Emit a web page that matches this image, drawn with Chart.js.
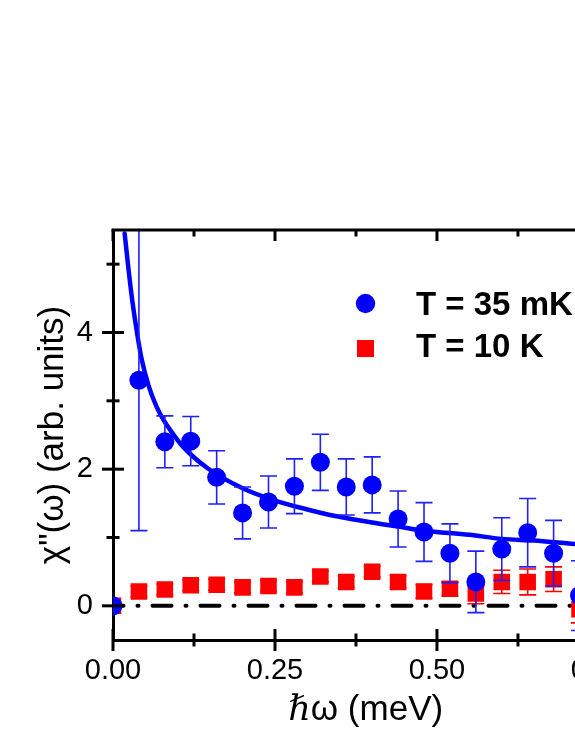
<!DOCTYPE html>
<html>
<head>
<meta charset="utf-8">
<style>
html,body{margin:0;padding:0;overflow:hidden;background:#fff;width:575px;height:744px;}
#wrap{position:absolute;left:0;top:0;width:720px;height:744px;}
</style>
<script src="https://cdn.jsdelivr.net/npm/chart.js@4.4.1/dist/chart.umd.min.js"></script>
</head>
<body>
<div id="wrap"><canvas id="c" width="720" height="744"></canvas></div>
<script>
// ---- data ----
const energy = [0, 0.04, 0.08, 0.12, 0.16, 0.20, 0.24, 0.28, 0.32, 0.36, 0.40, 0.44, 0.48, 0.52, 0.56, 0.60, 0.64, 0.68, 0.72];
const chi35mK = [0, 3.30, 2.40, 2.41, 1.88, 1.36, 1.52, 1.75, 2.10, 1.74, 1.77, 1.27, 1.08, 0.77, 0.35, 0.83, 1.07, 0.77, 0.15];
const err35mK = [0, 2.20, 0.38, 0.36, 0.39, 0.38, 0.38, 0.40, 0.41, 0.41, 0.41, 0.41, 0.43, 0.43, 0.45, 0.46, 0.50, 0.48, 0.51];
const chi10K = [0, 0.21, 0.24, 0.30, 0.31, 0.27, 0.29, 0.27, 0.43, 0.35, 0.50, 0.35, 0.21, 0.25, 0.18, 0.35, 0.35, 0.39, -0.05];
const err10K = [0, 0.08, 0.08, 0.08, 0.08, 0.08, 0.08, 0.08, 0.08, 0.08, 0.08, 0.09, 0.10, 0.10, 0.15, 0.17, 0.19, 0.18, 0.20];
const fitEnergy = [0.018, 0.024, 0.030, 0.037, 0.044, 0.055, 0.067, 0.078, 0.090, 0.108, 0.145, 0.20, 0.25, 0.30, 0.335, 0.40, 0.44, 0.48, 0.55, 0.60, 0.65, 0.713, 0.78];
const fitChi = [5.45, 4.92, 4.45, 4.00, 3.62, 3.22, 2.92, 2.72, 2.55, 2.33, 2.02, 1.72, 1.54, 1.41, 1.33, 1.22, 1.16, 1.10, 1.04, 0.98, 0.955, 0.905, 0.87];
const zeroEnergy = [0, 0.78];
const zeroChi = [0, 0];
const seriesLabels = ['T = 35 mK', 'T = 10 K'];
const xMajorTicks = [0, 0.25, 0.50, 0.75];
const xMinorTicks = [0.125, 0.375, 0.625];
const yMajorTicks = [0, 2, 4];
const yMinorTicks = [1, 3, 5];
const xTitle = 'ℏω (meV)';
const yTitle = 'χ"(ω) (arb. units)';

// ---- helpers ----
const FONT = "'Liberation Sans', Arial, 'DejaVu Serif', sans-serif";
const pts = (xs, ys) => xs.map((x, i) => ({x: x, y: ys[i]}));

const decor = {
  id: 'decor',
  beforeDatasetDraw(chart, args) {
    const ds = chart.data.datasets[args.index];
    if (!ds.errors) return;
    const {ctx, chartArea: a} = chart;
    const xs = chart.scales.x, ys = chart.scales.y;
    ctx.save();
    ctx.beginPath();
    ctx.rect(a.left, a.top, a.right - a.left, a.bottom - a.top);
    ctx.clip();
    ctx.strokeStyle = ds.errColor;
    ctx.lineWidth = 1.6;
    ds.data.forEach((p, i) => {
      const e = ds.errors[i];
      if (!e) return;
      const px = xs.getPixelForValue(p.x);
      const y1 = ys.getPixelForValue(p.y + e);
      const y2 = ys.getPixelForValue(p.y - e);
      ctx.beginPath();
      ctx.moveTo(px, y1); ctx.lineTo(px, y2);
      ctx.moveTo(px - 8.5, y1); ctx.lineTo(px + 8.5, y1);
      ctx.moveTo(px - 8.5, y2); ctx.lineTo(px + 8.5, y2);
      ctx.stroke();
    });
    ctx.restore();
  },
  afterDraw(chart) {
    const {ctx, chartArea: a} = chart;
    const xs = chart.scales.x, ys = chart.scales.y;
    ctx.save();
    ctx.strokeStyle = '#000';
    ctx.lineWidth = 3;
    ctx.lineCap = 'butt';
    const seg = (x1, y1, x2, y2) => { ctx.beginPath(); ctx.moveTo(x1, y1); ctx.lineTo(x2, y2); ctx.stroke(); };
    // frame top / right
    seg(a.left - 1.5, a.top, a.right + 1.5, a.top);
    seg(a.right, a.top, a.right, a.bottom);
    // x ticks
    xMajorTicks.forEach(v => { const p = xs.getPixelForValue(v); seg(p, a.bottom - 11, p, a.bottom + 11); seg(p, a.top, p, a.top + 11); });
    xMinorTicks.forEach(v => { const p = xs.getPixelForValue(v); seg(p, a.bottom - 6.5, p, a.bottom + 6.5); seg(p, a.top, p, a.top + 6.5); });
    // y ticks
    yMajorTicks.forEach(v => { const p = ys.getPixelForValue(v); seg(a.left - 11, p, a.left + 11, p); seg(a.right - 11, p, a.right, p); });
    yMinorTicks.forEach(v => { const p = ys.getPixelForValue(v); seg(a.left - 6.5, p, a.left + 6.5, p); seg(a.right - 6.5, p, a.right, p); });
    // legend
    ctx.fillStyle = '#0000ff';
    ctx.beginPath(); ctx.arc(365.5, 303.5, 9.7, 0, Math.PI * 2); ctx.fill();
    ctx.fillStyle = '#ff0000';
    ctx.fillRect(357, 340, 17, 17);
    ctx.fillStyle = '#000';
    ctx.font = "bold 33px " + FONT;
    ctx.textBaseline = 'alphabetic';
    ctx.textAlign = 'left';
    ctx.fillText(seriesLabels[0], 416, 315);
    ctx.fillText(seriesLabels[1], 416, 357);
    ctx.restore();
  }
};

new Chart(document.getElementById('c'), {
  type: 'scatter',
  data: {
    datasets: [
      {label: seriesLabels[0], data: pts(energy, chi35mK), errors: err35mK, errColor: '#1f1fff',
       pointStyle: 'circle', pointRadius: 9.5, backgroundColor: '#0000ff', borderWidth: 0, order: 0, clip: 0},
      {label: 'fit', type: 'line', data: pts(fitEnergy, fitChi), borderColor: '#0000ff', borderWidth: 4.5,
       pointRadius: 0, cubicInterpolationMode: 'monotone', borderCapStyle: 'round', fill: false, order: 1, clip: 0},
      {label: seriesLabels[1], data: pts(energy, chi10K), errors: err10K, errColor: '#ff0000',
       pointStyle: 'rect', pointRadius: 11.7, backgroundColor: '#ff0000', borderWidth: 0, order: 2, clip: 0},
      {label: 'zero', type: 'line', data: pts(zeroEnergy, zeroChi), borderColor: '#000', borderWidth: 4,
       borderDash: [19, 14, 1, 14], borderDashOffset: 8.5, borderCapStyle: 'round', pointRadius: 0, fill: false, order: 3, clip: 0}
    ]
  },
  options: {
    responsive: false,
    animation: false,
    devicePixelRatio: 1,
    layout: {padding: {top: 230, right: 101.6, left: 0, bottom: 0}},
    plugins: {legend: {display: false}, tooltip: {enabled: false}},
    scales: {
      x: {
        type: 'linear', position: 'bottom', min: 0, max: 0.78, z: 1,
        grid: {display: false, drawTicks: false},
        border: {display: true, width: 3, color: '#000'},
        afterBuildTicks: s => { s.ticks = xMajorTicks.map(v => ({value: v})); },
        afterFit: s => { s.height = 104; },
        ticks: {color: '#000', font: {family: FONT, size: 29}, padding: 14, maxRotation: 0, autoSkip: false,
                callback: v => Number(v).toFixed(2)},
        title: {display: true, text: xTitle, color: '#000', font: {family: FONT, size: 35}, padding: {top: 0, bottom: 13}}
      },
      y: {
        type: 'linear', position: 'left', min: -0.5, max: 5.5, z: 1,
        grid: {display: false, drawTicks: false},
        border: {display: true, width: 3, color: '#000'},
        afterBuildTicks: s => { s.ticks = yMajorTicks.map(v => ({value: v})); },
        afterFit: s => { s.width = 113; },
        ticks: {color: '#000', font: {family: FONT, size: 29}, padding: 20, autoSkip: false,
                callback: v => String(v)},
        title: {display: true, text: yTitle, color: '#000', font: {family: FONT, size: 35}, padding: {top: 32, bottom: 0}}
      }
    }
  },
  plugins: [decor]
});
</script>
</body>
</html>
